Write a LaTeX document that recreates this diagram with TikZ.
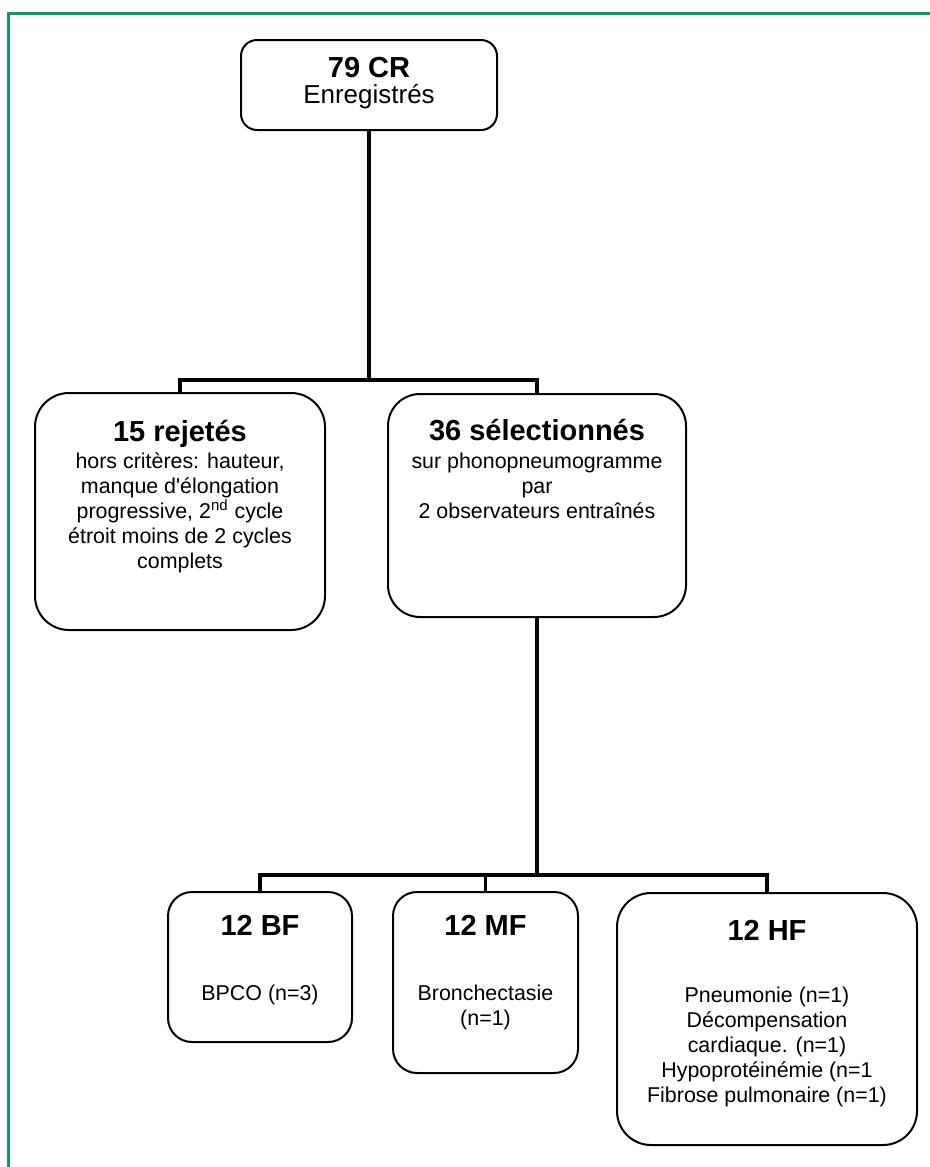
\documentclass[tikz,border=0pt]{standalone}
\usepackage{fontspec}
\setmainfont{Liberation Sans}
\usetikzlibrary{positioning}
\definecolor{framecolor}{RGB}{35,138,112}

\begin{document}
\begin{tikzpicture}[
    x=0.5pt, y=-0.5pt,
    box/.style={draw, line width=1pt, rounded corners=#1},
    box/.default=8pt,
    title/.style={font=\fontsize{14.5}{16}\selectfont\bfseries, anchor=base, inner sep=0pt},
    body/.style={font=\fontsize{10.7}{12.5}\selectfont, align=center, anchor=base, inner sep=0pt},
    link/.style={line width=1.75pt}
]
    \useasboundingbox (0,0) rectangle (930,1167);

    % Frame
    \draw[framecolor, line width=1.5pt] (930,13) -- (8,13) -- (8,1167);

    % Boxes
    \node[box, minimum width=128pt, minimum height=45pt] (cr) at (369,85) {};
    \node[box=17pt, minimum width=145pt, minimum height=118.5pt] (rej) at (180,511.5) {};
    \node[box=16pt, minimum width=149pt, minimum height=111.5pt] (sel) at (537,505.5) {};
    \node[box=12pt, minimum width=92pt, minimum height=75pt] (bf) at (260,967) {};
    \node[box=12pt, minimum width=92.5pt, minimum height=90.5pt] (mf) at (485.5,982.5) {};
    \node[box=17pt, minimum width=150pt, minimum height=126pt] (hf) at (767,1019) {};

    % Texts (body nodes sit on the baseline of their last line)
    \node[title] (cr-t) at (369,77) {79 CR};
    \node[body, font=\fontsize{13}{15}\selectfont] (cr-b) at (369,103) {Enregistrés};

    \node[title] (rej-t) at (180,441) {15 rejetés};
    \node[body] (rej-b) at (180,568) {hors critères: hauteur,\\manque d\textquotesingle élongation\\progressive, 2\textsuperscript{nd} cycle\\étroit moins de 2 cycles\\complets};

    \node[title] (sel-t) at (537,440) {36 sélectionnés};
    \node[body] (sel-b) at (537,518) {sur phonopneumogramme\\par\\2 observateurs entraînés};

    \node[title] (bf-t) at (260,935) {12 BF};
    \node[body] (bf-b) at (260,1000) {BPCO (n=3)};

    \node[title] (mf-t) at (485.5,935) {12 MF};
    \node[body] (mf-b) at (485.5,1025) {Bronchectasie\\(n=1)};

    \node[title] (hf-t) at (767,940) {12 HF};
    \node[body] (hf-b) at (767,1102) {Pneumonie (n=1)\\Décompensation\\cardiaque. (n=1)\\Hypoprotéinémie (n=1\\Fibrose pulmonaire (n=1)};

    % Links
    \coordinate (j1) at (369,380);
    \coordinate (j2) at (537,875);
    \draw[link] (cr.south) -- (j1);
    \draw[link] (rej.north) |- (j1) -| (sel.north);
    \draw[link] (sel.south) -- (j2);
    \draw[link] (bf.north) |- (j2) -| (hf.north);
    \draw[link] (mf.north) -- (mf.north |- j2);
\end{tikzpicture}
\end{document}
